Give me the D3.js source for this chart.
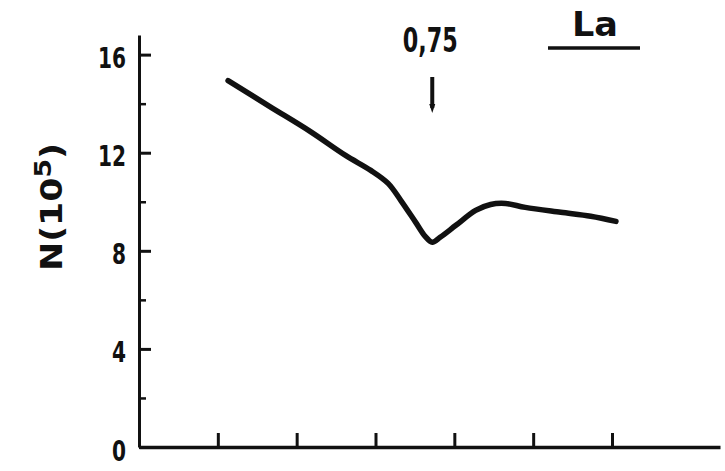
<!DOCTYPE html>
<html>
<head>
<meta charset="utf-8">
<script src="https://cdn.jsdelivr.net/npm/d3@7/dist/d3.min.js"></script>
<style>
  html, body { margin: 0; padding: 0; background: #fff; }
  svg { display: block; }
  text { font-family: "DejaVu Sans Condensed", "DejaVu Sans", sans-serif; font-stretch: condensed; fill: #111; }
</style>
</head>
<body>
<svg id="chart" width="725" height="471"></svg>
<script>
// ---- data (x in tick units, N in 10^5) ----
const xValues = [1.13, 1.66, 2.17, 2.62, 2.94, 3.16, 3.32, 3.51, 3.63, 3.72, 3.82, 4.02, 4.27, 4.46, 4.65, 4.90, 5.35, 5.73, 6.05];
const nValues = [14.94, 13.88, 12.87, 11.89, 11.28, 10.75, 10.06, 9.16, 8.59, 8.35, 8.55, 9.04, 9.65, 9.89, 9.93, 9.77, 9.57, 9.41, 9.20];
const yMajorTicks = [0, 4, 8, 12, 16];
const yMinorTicks = [2, 6, 10, 14];
const xTicks = [1, 2, 3, 4, 5, 6];
const markerX = 3.72;
const markerLabel = "0,75";
const seriesLabel = "La";

const svg = d3.select("#chart");
const x = d3.scaleLinear().domain([0, 7.37]).range([139, 720]);
const y = d3.scaleLinear().domain([0, 16.8]).range([447, 35]);
const ink = "#111";

// y axis major
const gyMaj = svg.append("g").attr("transform", `translate(${x(0)},0)`)
  .call(d3.axisLeft(y).tickValues(yMajorTicks).tickSizeInner(-12).tickSizeOuter(0).tickPadding(13).tickFormat(d3.format("d")));
gyMaj.select(".domain").attr("stroke", ink).attr("stroke-width", 3);
gyMaj.selectAll(".tick line").attr("stroke", ink).attr("stroke-width", 3);
gyMaj.selectAll(".tick text")
  .attr("font-size", 29).attr("fill", ink)
  .attr("font-family", null)
  .style("font-weight", "bold")
  .attr("textLength", d => String(d).length * 14)
  .attr("lengthAdjust", "spacingAndGlyphs")
  .attr("dy", "0.45em");

// y axis minor
const gyMin = svg.append("g").attr("transform", `translate(${x(0)},0)`)
  .call(d3.axisLeft(y).tickValues(yMinorTicks).tickSizeInner(-7).tickSizeOuter(0).tickFormat(""));
gyMin.select(".domain").remove();
gyMin.selectAll(".tick line").attr("stroke", ink).attr("stroke-width", 2.5);

// x axis
const gx = svg.append("g").attr("transform", `translate(0,${y(0)})`)
  .call(d3.axisBottom(x).tickValues(xTicks).tickSizeInner(-14).tickSizeOuter(0).tickFormat(""));
gx.select(".domain").attr("stroke", ink).attr("stroke-width", 3.5);
gx.selectAll(".tick line").attr("stroke", ink).attr("stroke-width", 3);

// y label
const yl = svg.append("text")
  .attr("transform", `translate(62,${207}) rotate(-90)`)
  .attr("text-anchor", "middle")
  .attr("font-size", 30)
  .attr("textLength", 128)
  .attr("lengthAdjust", "spacingAndGlyphs")
  .style("font-weight", "bold");
yl.append("tspan").text("N(10");
yl.append("tspan").attr("dy", -11).attr("font-size", 23).text("5");
yl.append("tspan").attr("dy", 11).text(")");

// curve
const pts = xValues.map((d, i) => [d, nValues[i]]);
svg.append("path")
  .datum(pts)
  .attr("fill", "none")
  .attr("stroke", ink)
  .attr("stroke-width", 5.5)
  .attr("stroke-linecap", "round")
  .attr("stroke-linejoin", "round")
  .attr("d", d3.line().x(d => x(d[0])).y(d => y(d[1])).curve(d3.curveCatmullRom.alpha(0.5)));

// marker label and arrow
const mx = x(markerX);
svg.append("text").attr("x", mx - 2).attr("y", 52).attr("text-anchor", "middle")
  .style("font-weight", "bold")
  .attr("font-size", 34).attr("textLength", 55).attr("lengthAdjust", "spacingAndGlyphs").text(markerLabel);
svg.append("line").attr("x1", mx).attr("x2", mx).attr("y1", 77).attr("y2", 108)
  .attr("stroke", ink).attr("stroke-width", 4);
svg.append("path")
  .attr("d", `M${mx - 3},${104} L${mx + 3},${104} L${mx},${113} Z`)
  .attr("fill", ink);

// series label
svg.append("text").attr("x", 595).attr("y", 36).attr("text-anchor", "middle")
  .style("font-weight", "bold")
  .attr("font-size", 34).attr("textLength", 46).attr("lengthAdjust", "spacingAndGlyphs").text(seriesLabel);
svg.append("line").attr("x1", 548).attr("x2", 640).attr("y1", 48).attr("y2", 48)
  .attr("stroke", ink).attr("stroke-width", 3.5);
</script>
</body>
</html>
